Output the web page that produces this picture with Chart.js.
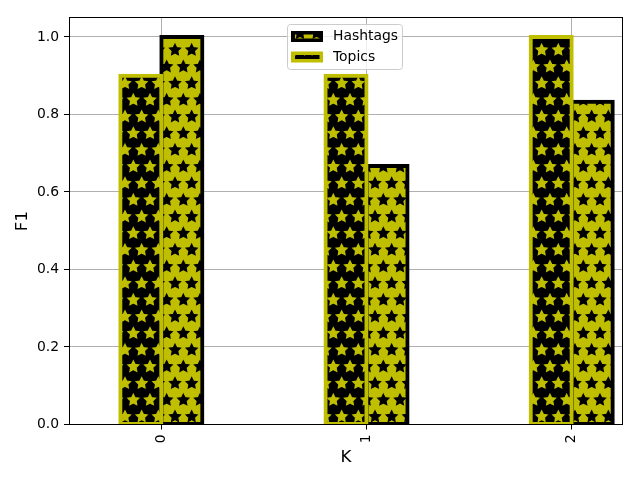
<!DOCTYPE html>
<html><head><meta charset="utf-8">
<script src="https://cdn.jsdelivr.net/npm/chart.js@4"></script>
<style>html,body{margin:0;padding:0;background:#fff}#wrap{width:640px;height:480px}</style>
</head><body><div id="wrap"><canvas id="c" width="640" height="480"></canvas></div>
<script>
const categories = ['0', '1', '2'];
const hashtags = [1.0, 0.667, 0.833];
const topics = [0.9, 0.9, 1.0];
const yTicks = [0.0, 0.2, 0.4, 0.6, 0.8, 1.0];
const legendOrder = ['Hashtags', 'Topics'];

const YEL = '#bfbf00', BLK = '#000000';
const FONT = "'DejaVu Sans', sans-serif";
Chart.defaults.font.family = FONT;
Chart.defaults.color = '#000';

function makePattern(ctx, face, hatch) {
  const s = 100, n = 6, step = s / n, R = step / 3;
  const c = document.createElement('canvas'); c.width = s; c.height = s;
  const g = c.getContext('2d');
  g.fillStyle = face; g.fillRect(0, 0, s, s);
  g.fillStyle = hatch; g.strokeStyle = hatch; g.lineWidth = 1.39;
  for (let k = -1; k <= n + 1; k++) {
    const off = (((k % 2) + 2) % 2) ? step / 2 : 0;
    for (let i = -1; i <= n + 1; i++) {
      const cx = i * step + off, cy = k * step;
      g.beginPath();
      for (let j = 0; j < 10; j++) {
        const a = -Math.PI / 2 + j * Math.PI / 5;
        const rr = j % 2 ? R * 0.5 : R;
        const x = cx + rr * Math.cos(a), y = cy + rr * Math.sin(a);
        if (j) g.lineTo(x, y); else g.moveTo(x, y);
      }
      g.closePath(); g.fill(); g.stroke();
    }
  }
  return ctx.createPattern(c, 'repeat');
}

const ctx = document.getElementById('c').getContext('2d');
const topicsPat = makePattern(ctx, BLK, YEL);
const hashPat = makePattern(ctx, YEL, BLK);

const framePlugin = {
  id: 'frame',
  afterDraw(chart) {
    const a = chart.chartArea, c = chart.ctx;
    c.save();
    c.strokeStyle = '#000'; c.lineWidth = 1;
    const l = Math.floor(a.left), t = Math.floor(a.top), r = Math.round(a.right), b = Math.floor(a.bottom);
    c.strokeRect(l + 0.5, t + 0.5, r - l - 1, b - t);
    c.restore();
  }
};

const legendPlugin = {
  id: 'mplLegend',
  afterDraw(chart) {
    const c = chart.ctx;
    c.save();
    const bx = 287.5, by = 24.5, bw = 115, bh = 45;
    c.beginPath();
    c.roundRect(bx, by, bw, bh, 3);
    c.fillStyle = 'rgba(255,255,255,0.8)'; c.fill();
    c.strokeStyle = '#cccccc'; c.lineWidth = 1; c.stroke();
    const rows = [36.5, 57];
    legendOrder.forEach((name, i) => {
      const ds = chart.data.datasets.find(d => d.label === name);
      const cy = rows[i];
      c.fillStyle = ds.borderColor;
      c.fillRect(291, cy - 5.5, 32, 11);
      c.fillStyle = ds.backgroundColor;
      c.fillRect(295, cy - 2, 24.5, 4);
      c.fillStyle = '#000';
      c.font = '13.9px ' + FONT;
      c.textBaseline = 'middle';
      c.textAlign = 'left';
      c.fillText(name, 333, cy);
    });
    c.restore();
  }
};

const gridOpts = { color: '#b0b0b0', lineWidth: 1, tickColor: '#000', tickLength: 5, offset: false };

new Chart(ctx, {
  type: 'bar',
  data: {
    datasets: [
      { label: 'Topics', data: categories.map((c, i) => ({ x: Number(c), y: topics[i] })),
        backgroundColor: topicsPat, borderColor: YEL, borderWidth: 4, borderSkipped: false,
        inflateAmount: 2, clip: 0 },
      { label: 'Hashtags', data: categories.map((c, i) => ({ x: Number(c), y: hashtags[i] })),
        backgroundColor: hashPat, borderColor: BLK, borderWidth: 4, borderSkipped: false,
        inflateAmount: 2, clip: 0 }
    ]
  },
  options: {
    responsive: false, animation: false, devicePixelRatio: 1,
    layout: { padding: { left: 0, top: 17.6, right: 17, bottom: 0 } },
    datasets: { bar: { categoryPercentage: 0.4, barPercentage: 1 } },
    plugins: { legend: { display: false }, tooltip: { enabled: false } },
    scales: {
      x: {
        type: 'linear', min: -0.45, max: 2.25, offset: false, z: 1,
        grid: gridOpts, border: { display: false },
        afterBuildTicks: s => { s.ticks = categories.map(c => ({ value: Number(c) })); },
        afterFit: s => { s.height = 55.5; },
        ticks: { minRotation: 90, maxRotation: 90, autoSkip: false, padding: 5,
                 font: { size: 13.9 }, callback: (v, i) => categories[i] },
        title: { display: true, text: 'K', font: { size: 16.7 }, padding: { top: 0, bottom: 12 } }
      },
      y: {
        min: 0, max: 1.05, z: 1,
        grid: gridOpts, border: { display: false },
        afterBuildTicks: s => { s.ticks = yTicks.map(v => ({ value: v })); },
        afterFit: s => { s.width = 69; },
        ticks: { padding: 5, font: { size: 13.9 }, callback: v => Number(v).toFixed(1) },
        title: { display: true, text: 'F1', font: { size: 16.7 }, padding: { top: 13, bottom: 0 } }
      }
    }
  },
  plugins: [framePlugin, legendPlugin]
});
</script>
</body></html>
